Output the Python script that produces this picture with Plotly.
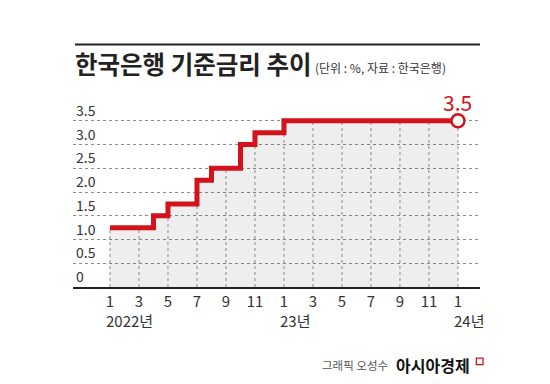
import plotly.graph_objects as go

# ---- data ----
change_dates = ["2022-01", "2022-04", "2022-05", "2022-07", "2022-08",
                "2022-10", "2022-11", "2023-01", "2024-01"]
rates = [1.25, 1.5, 1.75, 2.25, 2.5, 3.0, 3.25, 3.5, 3.5]

tick_dates = ["2022-01", "2022-03", "2022-05", "2022-07", "2022-09", "2022-11",
              "2023-01", "2023-03", "2023-05", "2023-07", "2023-09", "2023-11",
              "2024-01"]
tick_labels = ["1", "3", "5", "7", "9", "11", "1", "3", "5", "7", "9", "11", "1"]

year_dates = ["2022-01", "2023-01", "2024-01"]
year_labels = ["2022년", "23년", "24년"]

y_ticks = [0, 0.5, 1.0, 1.5, 2.0, 2.5, 3.0, 3.5]
y_labels = ["0", "0.5", "1.0", "1.5", "2.0", "2.5", "3.0", "3.5"]

title = "한국은행 기준금리 추이"
subtitle = "(단위 : %, 자료 : 한국은행)"
credit_a = "그래픽 오성수"
credit_b = "아시아경제"


def midx(s):
    y, m = s.split("-")
    return (int(y) - 2022) * 12 + int(m) - 1


cx = [midx(d) for d in change_dates]
tx = [midx(d) for d in tick_dates]


def rate_at(m):
    r = rates[0]
    for xx, rr in zip(cx, rates):
        if xx <= m:
            r = rr
    return r


RED = "#d3121c"
FONT = "Noto Sans CJK KR"

fig = go.Figure()

# filled area under the step line
fig.add_trace(go.Scatter(x=cx, y=rates, mode="lines", line=dict(width=0, shape="hv"),
                         fill="tozeroy", fillcolor="rgba(0,0,0,0.065)",
                         hoverinfo="skip", showlegend=False))

# vertical dotted grid under the line
vx, vy = [], []
for m in tx:
    vx += [m, m, None]
    vy += [0, rate_at(m), None]
fig.add_trace(go.Scatter(x=vx, y=vy, mode="lines",
                         line=dict(color="#8a8a8a", width=1, dash="dot"),
                         hoverinfo="skip", showlegend=False))

# step line
fig.add_trace(go.Scatter(x=cx, y=rates, mode="lines",
                         line=dict(color=RED, width=5, shape="hv"),
                         showlegend=False, cliponaxis=False))

# end marker
fig.add_trace(go.Scatter(x=[cx[-1]], y=[rates[-1]], mode="markers",
                         marker=dict(size=13, color="white",
                                     line=dict(color=RED, width=2.5)),
                         showlegend=False, cliponaxis=False))

annotations = [
    dict(x=cx[-1], y=rates[-1], xref="x", yref="y", text=f"{rates[-1]:.1f}",
         showarrow=False, yshift=19, font=dict(family=FONT, size=21, color=RED)),
    dict(x=0, y=1.1755, xref="paper", yref="paper", xanchor="left", yanchor="middle",
         xshift=0, text=f"<b>{title}</b>", showarrow=False,
         font=dict(family=FONT, size=24.5, color="#222")),
    dict(x=0.59, y=1.1545, xref="paper", yref="paper", xanchor="left", yanchor="middle",
         text=subtitle, showarrow=False, font=dict(family=FONT, size=12, color="#333")),
    dict(x=1.0, y=-0.411, xref="paper", yref="paper", xanchor="right", yanchor="middle",
         xshift=-90, text=credit_a, showarrow=False,
         font=dict(family=FONT, size=11.5, color="#555")),
    dict(x=1.0, y=-0.411, xref="paper", yref="paper", xanchor="right", yanchor="middle",
         xshift=-8, text=f"<b>{credit_b}</b>", showarrow=False,
         font=dict(family=FONT, size=16, color="#111")),
]
for d, lab in zip(year_dates, year_labels):
    annotations.append(dict(x=midx(d), y=-0.174, xref="x", yref="paper",
                            xanchor="left", yanchor="middle", xshift=-6,
                            text=lab, showarrow=False,
                            font=dict(family=FONT, size=15, color="#333")))

shapes = [
    dict(type="line", xref="paper", yref="paper", x0=0.005, x1=1.0, y0=1.2757, y1=1.2757,
         line=dict(color="#222", width=2)),
    dict(type="rect", xref="paper", yref="paper", x0=0.991, x1=1.0075,
         y0=-0.374, y1=-0.409, line=dict(color=RED, width=1.3), fillcolor="white"),
]

fig.update_layout(
    width=550, height=384,
    margin=dict(l=73, r=70, t=97.3, b=97),
    paper_bgcolor="white", plot_bgcolor="white",
    font=dict(family=FONT, color="#333"),
    xaxis=dict(range=[-2.55, 25.52], tickvals=tx, ticktext=tick_labels,
               showgrid=False, zeroline=False, showline=True, linecolor="#222",
               linewidth=1.5, ticks="", tickfont=dict(size=15, color="#333"),
               automargin=False, fixedrange=True),
    yaxis=dict(range=[0, 4.0], tickvals=y_ticks, ticktext=y_labels,
               showgrid=True, gridcolor="#8a8a8a", gridwidth=1, griddash="dot",
               zeroline=False, showline=False, ticks="",
               ticklabelposition="inside top", tickfont=dict(size=14, color="#333"),
               automargin=False, fixedrange=True),
    annotations=annotations,
    shapes=shapes,
    showlegend=False,
)

fig.write_html("out.html", config={"displayModeBar": False},
               post_script="document.body.style.margin='0';")
